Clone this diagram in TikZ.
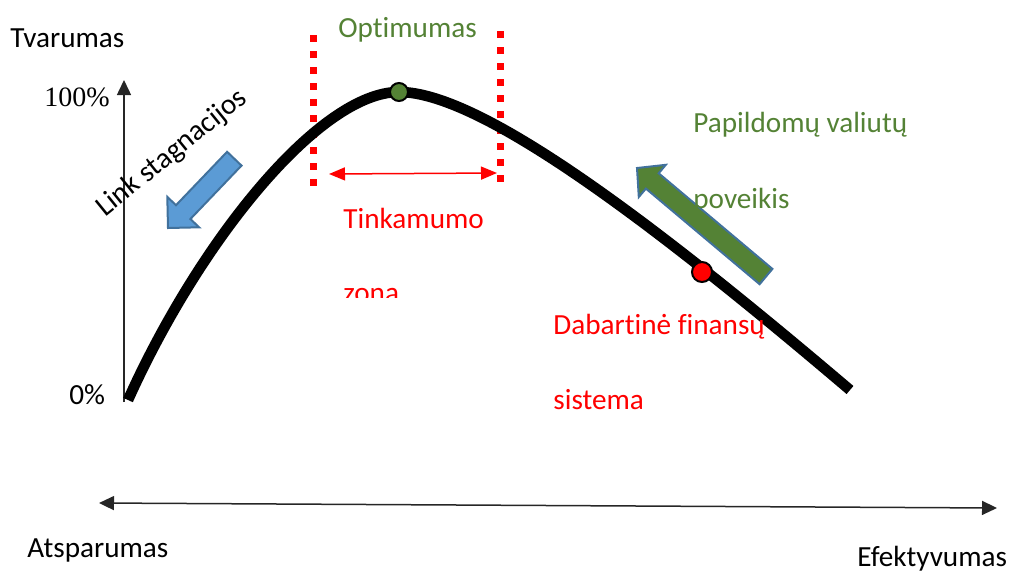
\documentclass[tikz,border=0pt]{standalone}
\usepackage{fontspec}
\setmainfont[Ligatures=NoCommon]{Carlito}
\newfontfamily\serifnum{Liberation Serif}
\usetikzlibrary{arrows.meta}
\definecolor{optgreen}{RGB}{84,130,53}
\definecolor{arrblue}{RGB}{91,155,213}
\definecolor{edgeblue}{RGB}{65,113,156}
\begin{document}
\begin{tikzpicture}[x=0.5pt,y=-0.5pt,
  lbl/.style={inner sep=0pt, font=\fontsize{14.6}{17}\selectfont, anchor=base west},
  axis/.style={line width=0.75pt, draw=black!85},
  uparrow/.style={axis, -{Triangle[length=7.5pt,width=7pt]}},
  bothaxis/.style={axis, {Triangle[length=7.5pt,width=7pt]}-{Triangle[length=7.5pt,width=7pt]}},
  curve/.style={line width=5.3pt, black},
  dotnode/.style={circle, draw=black, line width=1pt, inner sep=0pt},
  reddots/.style={red, line width=3.5pt, dash pattern=on 3.5pt off 4.5pt},
  zonearrow/.style={red, line width=0.75pt, {Triangle[length=8pt,width=6.5pt]}-{Triangle[length=8pt,width=6.5pt]}},
  blockarrow/.style={line width=1pt, draw=edgeblue}]
\useasboundingbox (0,0) rectangle (1011,574);

% axes
\coordinate (yb) at (124,402);
\coordinate (yt) at (124,80);
\draw[uparrow] (yb) -- (yt);
\coordinate (xl) at (99,503);
\coordinate (xr) at (997,508);
\draw[bothaxis] (xl) -- (xr);

% red dotted limits
\coordinate (l1) at (313,35);  \coordinate (l2) at (313,186);
\coordinate (r1) at (500,31);  \coordinate (r2) at (500,183);
\draw[reddots] (l1) -- (l2);
\draw[reddots] (r1) -- (r2);

% curve
\coordinate (c0) at (128,400);
\coordinate (cp) at (399,92);
\coordinate (c1) at (850,390);
\draw[curve] (c0) .. controls (200,240) and (320,92) .. (cp)
              .. controls (480,92) and (650,220) .. (c1);

% zone arrow
\coordinate (zl) at (329,174);
\coordinate (zr) at (497,173);
\draw[zonearrow] (zl) -- (zr);

% block arrows
\filldraw[blockarrow, fill=arrblue]
  (241.5,165.6) -- (190.4,219.0) -- (199.1,227.3) -- (168,228) -- (167.3,196.9) -- (176.0,205.2) -- (227.1,151.8) -- cycle;
\filldraw[blockarrow, fill=optgreen]
  (772.4,268.9) -- (658.7,173.3) -- (665.8,164.8) -- (637,168) -- (638.8,197.0) -- (645.9,188.6) -- (759.6,284.2) -- cycle;

% dots
\node[dotnode, fill=optgreen, minimum size=9pt] (optdot) at (cp) {};
\node[dotnode, fill=red, minimum size=10pt] (curdot) at (702,272) {};

% labels
\node[lbl] (tvar) at (10,47) {Tvarumas};
\node[inner sep=0pt, anchor=base west, font=\serifnum\fontsize{14}{16}\selectfont] (p100) at (44,106) {100\%};
\node[lbl] (p0) at (69,404) {0\%};
\node[lbl, text=optgreen] (optim) at (338,37) {Optimumas};
\node[lbl, text=red] (tink) at (343,228) {Tinkamumo};
\begin{scope}
  \clip (330,260) rectangle (430,297);
  \node[lbl, text=red] (zona) at (343,302) {zona};
\end{scope}
\node[lbl, text=optgreen] (papild) at (693,132) {Papildomų valiutų};
\node[lbl, text=optgreen] (poveik) at (693,208) {poveikis};
\node[lbl, text=red] (dabart) at (553,334) {Dabartinė finansų};
\node[lbl, text=red] (sist) at (553,409) {sistema};
\node[lbl] (atsp) at (27,557) {Atsparumas};
\node[lbl] (efekt) at (857,566) {Efektyvumas};
\node[inner sep=0pt, anchor=base, rotate=39, font=\fontsize{14.6}{17}\selectfont] (link) at (177,159) {Link stagnacijos};
\end{tikzpicture}
\end{document}
